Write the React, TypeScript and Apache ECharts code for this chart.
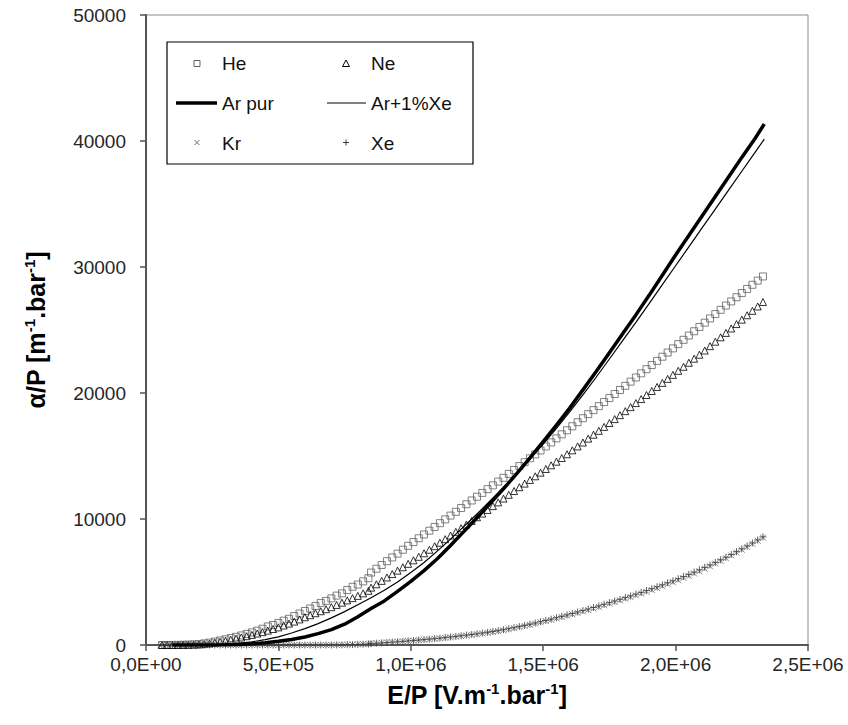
import { useEffect, useRef } from "react";
import * as echarts from "echarts";

// Reduced field E/P [V.m-1.bar-1] of the measurement points
const EP_LOW = [
  60000, 80000, 100000, 120000, 140000, 160000, 180000, 200000, 220000, 240000,
  260000, 280000, 300000, 320000, 340000, 360000, 380000, 400000, 420000, 440000,
  460000, 480000, 500000, 520000, 540000, 560000, 580000, 600000, 620000, 640000,
  660000, 680000, 700000, 720000, 740000, 760000, 780000, 800000, 820000, 840000,
];
const EP_HIGH = [
  850000, 870000, 890000, 910000, 930000, 950000, 970000, 990000, 1010000, 1030000,
  1050000, 1070000, 1090000, 1110000, 1130000, 1150000, 1170000, 1190000, 1210000, 1230000,
  1250000, 1270000, 1290000, 1310000, 1330000, 1350000, 1370000, 1390000, 1410000, 1430000,
  1450000, 1470000, 1490000, 1510000, 1530000, 1550000, 1570000, 1590000, 1610000, 1630000,
  1650000, 1670000, 1690000, 1710000, 1730000, 1750000, 1770000, 1790000, 1810000, 1830000,
  1850000, 1870000, 1890000, 1910000, 1930000, 1950000, 1970000, 1990000, 2010000, 2030000,
  2050000, 2070000, 2090000, 2110000, 2130000, 2150000, 2170000, 2190000, 2210000, 2230000,
  2250000, 2270000, 2290000, 2310000, 2330000,
];
const EP_AR = [
  100000, 150000, 200000, 250000, 300000, 350000, 400000, 450000, 500000, 550000,
  600000, 650000, 700000, 750000, 800000, 850000, 900000, 950000, 1000000, 1050000,
  1100000, 1150000, 1200000, 1250000, 1300000, 1350000, 1400000, 1450000, 1500000, 1550000,
  1600000, 1650000, 1700000, 1750000, 1800000, 1850000, 1900000, 1950000, 2000000, 2050000,
  2100000, 2150000, 2200000, 2250000, 2300000, 2335000,
];

// Reduced ionisation coefficient alpha/P [m-1.bar-1]
const HE_LOW = [
  0, 0, 5, 10, 20, 35, 55, 80, 130, 190,
  270, 360, 450, 550, 650, 760, 880, 1000, 1140, 1290,
  1470, 1590, 1750, 1930, 2080, 2300, 2500, 2700, 2900, 3100,
  3340, 3500, 3700, 3920, 4100, 4360, 4620, 4800, 5050, 5300,
];
const HE_HIGH = [
  5750, 6050, 6350, 6650, 6950, 7250, 7560, 7870, 8170, 8470,
  8770, 9070, 9370, 9670, 9970, 10270, 10570, 10870, 11170, 11470,
  11770, 12070, 12370, 12670, 12970, 13270, 13580, 13890, 14200, 14510,
  14820, 15130, 15440, 15760, 16080, 16400, 16720, 17040, 17360, 17680,
  18000, 18320, 18640, 18960, 19280, 19600, 19920, 20240, 20570, 20900,
  21230, 21560, 21890, 22220, 22550, 22880, 23210, 23540, 23880, 24220,
  24560, 24900, 25240, 25580, 25920, 26260, 26600, 26940, 27270, 27600,
  27930, 28260, 28590, 28920, 29250,
];
const NE_LOW = [
  0, 0, 0, 5, 10, 18, 28, 40, 70, 120,
  185, 255, 330, 415, 505, 600, 700, 800, 910, 1020,
  1140, 1270, 1400, 1550, 1700, 1860, 2030, 2200, 2360, 2520,
  2680, 2840, 3000, 3180, 3360, 3540, 3720, 3900, 4100, 4300,
];
const NE_HIGH = [
  4550, 4820, 5090, 5360, 5630, 5900, 6170, 6440, 6720, 7000,
  7280, 7560, 7840, 8120, 8400, 8690, 8980, 9270, 9560, 9850,
  10140, 10430, 10720, 11020, 11320, 11620, 11920, 12220, 12520, 12810,
  13100, 13390, 13680, 13970, 14260, 14550, 14840, 15140, 15450, 15760,
  16070, 16380, 16690, 17000, 17310, 17620, 17930, 18240, 18560, 18880,
  19200, 19520, 19840, 20160, 20480, 20800, 21120, 21440, 21760, 22080,
  22400, 22720, 23040, 23370, 23720, 24070, 24420, 24770, 25120, 25470,
  25820, 26170, 26520, 26870, 27220,
];
const KR_LOW = [
  0, 0, 0, 0, 0, 0, 0, 0, 0, 0,
  0, 0, 0, 0, 0, 0, 0, 0, 0, 0,
  0, 0, 0, 0, 0, 0, 0, 0, 0, 0,
  0, 0, 5, 10, 15, 25, 35, 50, 65, 80,
];
const KR_HIGH = [
  120, 145, 175, 200, 230, 260, 290, 320, 350, 385,
  420, 455, 490, 530, 570, 615, 660, 705, 750, 800,
  855, 910, 970, 1035, 1105, 1175, 1250, 1330, 1420, 1510,
  1600, 1700, 1800, 1900, 2000, 2110, 2220, 2330, 2440, 2550,
  2660, 2780, 2900, 3020, 3150, 3280, 3410, 3540, 3670, 3800,
  3940, 4080, 4220, 4370, 4520, 4670, 4830, 4990, 5150, 5320,
  5495, 5675, 5860, 6050, 6245, 6460, 6670, 6885, 7105, 7330,
  7560, 7795, 8035, 8280, 8530,
];
const XE_LOW = [
  0, 0, 0, 0, 0, 0, 0, 0, 0, 0,
  0, 0, 0, 0, 0, 0, 0, 0, 0, 0,
  0, 0, 0, 0, 0, 0, 0, 0, 0, 0,
  0, 0, 0, 5, 10, 20, 30, 45, 60, 75,
];
const XE_HIGH = [
  110, 140, 165, 195, 225, 255, 285, 320, 355, 390,
  430, 465, 505, 545, 590, 635, 680, 730, 780, 830,
  885, 945, 1005, 1070, 1140, 1215, 1290, 1375, 1460, 1550,
  1645, 1740, 1840, 1945, 2050, 2160, 2270, 2385, 2500, 2615,
  2730, 2850, 2975, 3100, 3230, 3360, 3490, 3625, 3760, 3895,
  4035, 4175, 4320, 4470, 4620, 4775, 4935, 5095, 5260, 5430,
  5605, 5785, 5970, 6160, 6355, 6555, 6760, 6970, 7185, 7405,
  7630, 7860, 8095, 8335, 8580,
];
const AR_PUR = [
  0, 0, 0, 5, 15, 40, 90, 170, 290, 440,
  640, 900, 1220, 1650, 2250, 2900, 3500, 4250, 5050, 5900,
  6850, 7900, 9000, 10100, 11250, 12400, 13600, 14850, 16150, 17450,
  18800, 20250, 21700, 23200, 24700, 26200, 27750, 29350, 30950, 32500,
  34050, 35600, 37150, 38700, 40200, 41350,
];
const AR_XE = [
  0, 0, 5, 20, 60, 130, 250, 420, 640, 950,
  1300, 1700, 2150, 2650, 3200, 3750, 4350, 5000, 5750, 6550,
  7450, 8400, 9400, 10400, 11450, 12500, 13600, 14750, 15950, 17200,
  18500, 19850, 21250, 22700, 24150, 25600, 27100, 28600, 30100, 31600,
  33100, 34600, 36100, 37600, 39100, 40150,
];

const FONT = '"Liberation Sans", Arial, sans-serif';
const CROSS = "path://M0,0L10,10M10,0L0,10";
const PLUS = "path://M5,0L5,10M0,5L10,5";

const HE_COLOR = "#626262";
const NE_COLOR = "#000";
const KR_COLOR = "#6a6a6a";
const XE_COLOR = "#3a3a3a";

function pairs(xs: number[], ys: number[]): number[][] {
  return xs.map((x, i) => [x, ys[i]]);
}

// 5E+05 style labels with a decimal comma
function sci(v: number): string {
  if (v === 0) return "0,0E+00";
  const e = Math.floor(Math.log10(v) + 1e-9);
  const m = v / Math.pow(10, e);
  return m.toFixed(1).replace(".", ",") + "E+" + String(e).padStart(2, "0");
}

function markerSeries(name: string, symbol: string, size: number, stroke: string, low: number[], high: number[]) {
  return {
    name,
    type: "scatter",
    symbol,
    symbolSize: size,
    itemStyle: { color: "rgba(0,0,0,0)", borderColor: stroke, borderWidth: 1 },
    data: pairs(EP_LOW, low).concat(pairs(EP_HIGH, high)),
  };
}

function lineSeries(name: string, width: number, ys: number[]) {
  return {
    name,
    type: "line",
    symbol: "none",
    showSymbol: false,
    itemStyle: { color: "#000" },
    lineStyle: { color: "#000", width },
    data: pairs(EP_AR, ys),
  };
}

// Legend keys, drawn next to the legend texts
const ROW1 = 63.5;
const ROW2 = 103;
const ROW3 = 142.5;
const COL1 = 197;
const COL2 = 346;

function legendKeys() {
  const line = (x1: number, y1: number, x2: number, y2: number, stroke: string, lineWidth: number) => ({
    type: "line",
    shape: { x1, y1, x2, y2 },
    style: { stroke, lineWidth },
    z: 20,
  });
  return [
    {
      type: "rect",
      shape: { x: COL1 - 3, y: ROW1 - 3, width: 6, height: 6 },
      style: { fill: "none", stroke: HE_COLOR, lineWidth: 1 },
      z: 20,
    },
    {
      type: "polygon",
      shape: { points: [[COL2, ROW1 - 3.5], [COL2 + 3.5, ROW1 + 3], [COL2 - 3.5, ROW1 + 3]] },
      style: { fill: "none", stroke: NE_COLOR, lineWidth: 1 },
      z: 20,
    },
    line(176, ROW2, 217, ROW2, "#000", 3.5),
    line(327, ROW2, 366, ROW2, "#000", 1.2),
    line(COL1 - 2.5, ROW3 - 2.5, COL1 + 2.5, ROW3 + 2.5, KR_COLOR, 1),
    line(COL1 + 2.5, ROW3 - 2.5, COL1 - 2.5, ROW3 + 2.5, KR_COLOR, 1),
    line(COL2, ROW3 - 3, COL2, ROW3 + 3, XE_COLOR, 1),
    line(COL2 - 3, ROW3, COL2 + 3, ROW3, XE_COLOR, 1),
  ];
}

export default function App() {
  const ref = useRef<HTMLDivElement>(null);

  useEffect(() => {
    if (!ref.current) return;
    const chart = echarts.init(ref.current, undefined, { renderer: "svg" });
    const legendCommon = {
      orient: "vertical",
      top: 54,
      padding: 0,
      itemWidth: 41,
      itemHeight: 7,
      itemGap: 21,
      selectedMode: false,
      textStyle: { fontFamily: FONT, fontSize: 19, color: "#111" },
    };
    const titleRich = {
      t: { fontFamily: FONT, fontSize: 25, fontWeight: "bold", color: "#000", lineHeight: 28 },
      s: { fontFamily: FONT, fontSize: 15, fontWeight: "bold", color: "#000", verticalAlign: "top", lineHeight: 15 },
    };
    chart.setOption({
      animation: false,
      backgroundColor: "#fff",
      grid: {
        left: 146,
        right: 40,
        top: 15,
        bottom: 80,
        show: true,
        borderColor: "#8c8c8c",
        borderWidth: 1,
      },
      xAxis: {
        type: "value",
        min: 0,
        max: 2500000,
        interval: 500000,
        name: "{t|E/P [V.m}{s|-1}{t|.bar}{s|-1}{t|]}",
        nameLocation: "middle",
        nameGap: 36,
        nameTextStyle: { rich: titleRich },
        axisLine: { lineStyle: { color: "#555", width: 2 } },
        axisTick: { length: 6, lineStyle: { color: "#555", width: 1.5 } },
        axisLabel: { formatter: sci, fontFamily: FONT, fontSize: 19, color: "#262626", margin: 10 },
        splitLine: { show: false },
      },
      yAxis: {
        type: "value",
        min: 0,
        max: 50000,
        interval: 10000,
        name: "{t|\u03b1/P [m}{s|-1}{t|.bar}{s|-1}{t|]}",
        nameLocation: "middle",
        nameRotate: 90,
        nameGap: 96,
        nameTextStyle: { rich: titleRich },
        axisLine: { show: true, lineStyle: { color: "#555", width: 2 } },
        axisTick: { show: true, length: 6, lineStyle: { color: "#555", width: 1.5 } },
        axisLabel: {
          formatter: (v: number) => String(v),
          fontFamily: FONT,
          fontSize: 19,
          color: "#262626",
          margin: 20,
        },
        splitLine: { show: false },
      },
      legend: [
        {
          ...legendCommon,
          left: 176,
          data: [
            { name: "He", icon: "none" },
            { name: "Ar pur", icon: "none" },
            { name: "Kr", icon: "none" },
          ],
        },
        {
          ...legendCommon,
          left: 327,
          itemWidth: 39,
          data: [
            { name: "Ne", icon: "none" },
            { name: "Ar+1%Xe", icon: "none" },
            { name: "Xe", icon: "none" },
          ],
        },
      ],
      graphic: [
        {
          type: "rect",
          shape: { x: 167, y: 42, width: 306, height: 122 },
          style: { fill: "none", stroke: "#000", lineWidth: 1.2 },
          z: 10,
        },
        ...legendKeys(),
      ],
      series: [
        markerSeries("He", "rect", 7, HE_COLOR, HE_LOW, HE_HIGH),
        markerSeries("Ne", "triangle", 7, NE_COLOR, NE_LOW, NE_HIGH),
        markerSeries("Kr", CROSS, 6, KR_COLOR, KR_LOW, KR_HIGH),
        markerSeries("Xe", PLUS, 7, XE_COLOR, XE_LOW, XE_HIGH),
        lineSeries("Ar pur", 3.5, AR_PUR),
        lineSeries("Ar+1%Xe", 1.2, AR_XE),
      ],
    });
    return () => chart.dispose();
  }, []);

  return (
    <div
      ref={ref}
      style={{ position: "fixed", left: 0, top: 0, width: 848, height: 725, background: "#fff" }}
    />
  );
}
